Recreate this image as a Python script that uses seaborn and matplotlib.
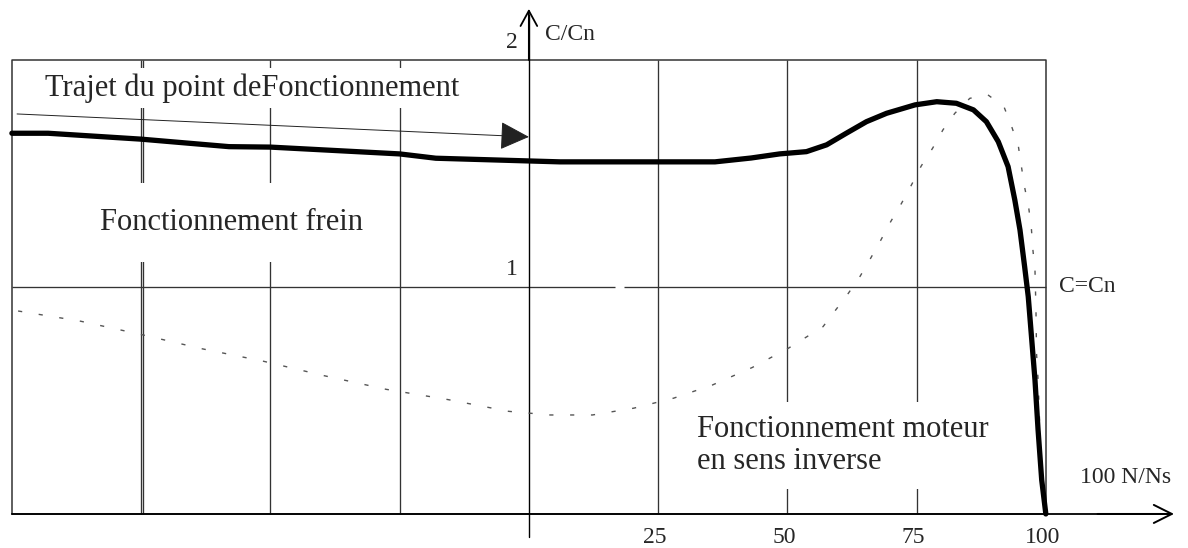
import matplotlib
matplotlib.use("Agg")
import matplotlib.pyplot as plt
import seaborn as sns
import pandas as pd

# Torque/speed characteristic of an induction machine (C/Cn versus 100 N/Ns)
speed_solid = [-100, -93, -84, -75, -58, -50, -25, -18, -6, 6, 14, 25, 36, 43, 48.5,
               53.7, 57.6, 61.4, 65.3, 69.2, 74.7, 78.9, 82.7, 86.0, 88.5, 90.8, 92.7,
               94.0, 95.0, 95.9, 96.6, 97.3, 97.9, 98.5, 99.2, 100]
torque_solid = [1.677, 1.677, 1.664, 1.651, 1.618, 1.616, 1.586, 1.567, 1.559, 1.551,
                1.551, 1.551, 1.551, 1.568, 1.586, 1.596, 1.626, 1.677, 1.728, 1.765,
                1.802, 1.816, 1.809, 1.780, 1.728, 1.640, 1.530, 1.383, 1.251, 1.089,
                0.957, 0.76, 0.590, 0.370, 0.150, 0.0]

speed_dotted = [-98.8, -86.9, -75.1, -63.3, -51.4, -39.6, -27.6, -15.7, -3.9, 4.1, 12.3,
                20.3, 28.0, 35.5, 43.2, 50.2, 56.9, 61.8, 64.1, 66.1, 68.1, 70.0, 72.1,
                74.0, 75.9, 78.1, 80.1, 82.4, 85.3, 88.8, 91.9, 93.4, 94.7, 95.3, 95.9,
                96.7, 97.2, 97.5, 97.9, 98.0, 98.1, 98.2, 98.5, 99.2, 100]
torque_dotted = [0.894, 0.850, 0.791, 0.728, 0.673, 0.609, 0.549, 0.504, 0.452, 0.436, 0.436,
                 0.466, 0.510, 0.568, 0.645, 0.730, 0.825, 0.972, 1.048, 1.126, 1.207, 1.288,
                 1.369, 1.449, 1.533, 1.611, 1.692, 1.765, 1.831, 1.846, 1.794, 1.706, 1.618,
                 1.527, 1.439, 1.347, 1.259, 1.163, 1.075, 0.984, 0.885, 0.709, 0.590, 0.150,
                 0.0]

grid_x = [-75, -50, -25, 25, 50, 75]
tick_values = [25, 50, 75, 100]
tick_labels = ["25", "50", "75", "100"]

sns.set_style("white")
plt.rcParams["font.family"] = ["Liberation Serif", "DejaVu Serif"]

fig = plt.figure(figsize=(11.88, 5.48), dpi=100)
ax = fig.add_axes([0, 0, 1, 1])
ax.set_xlim(-102.3, 127.5)
ax.set_ylim(-0.150, 2.264)
ax.axis("off")

grid_color = "#333333"
# Frame of the chart area
ax.plot([-100, 100, 100, -100, -100], [0, 0, 2, 2, 0], color=grid_color, lw=1.1, zorder=1)
# Vertical grid lines (the -75 line is doubled)
ax.vlines(grid_x, 0, 2, color=grid_color, lw=0.95, zorder=1)
ax.vlines([-74.6], 0, 2, color=grid_color, lw=0.95, zorder=1)
# Rated torque line C = Cn, with its small break
ax.hlines([1, 1], [-100, 18.4], [16.6, 100], color=grid_color, lw=0.95, zorder=1)

# Axes with open arrow heads
ax.plot([0, 0], [-0.1, 2.2], color="black", lw=1.0, zorder=2)
ax.annotate("", xy=(0, 2.225), xytext=(0, 2.0),
            arrowprops=dict(arrowstyle="->,head_length=1.1,head_width=0.6",
                            lw=1.3, color="black", shrinkA=0, shrinkB=0))
ax.plot([-100, 124], [0, 0], color="black", lw=1.3, zorder=2)
ax.annotate("", xy=(124.8, 0), xytext=(110, 0),
            arrowprops=dict(arrowstyle="->,head_length=1.3,head_width=0.65",
                            lw=1.4, color="black", shrinkA=0, shrinkB=0))

# Curves
df_solid = pd.DataFrame({"speed": speed_solid, "torque": torque_solid})
df_dotted = pd.DataFrame({"speed": speed_dotted, "torque": torque_dotted})
sns.lineplot(data=df_dotted, x="speed", y="torque", ax=ax, color="#555555", lw=1.0,
             linestyle=(0, (3, 12)), estimator=None, sort=False, zorder=3)
sns.lineplot(data=df_solid, x="speed", y="torque", ax=ax, color="black", lw=3.8,
             estimator=None, sort=False, zorder=4, solid_capstyle="round",
             solid_joinstyle="round")

# Operating point path arrow
ax.annotate("", xy=(0, 1.661), xytext=(-99, 1.762),
            arrowprops=dict(arrowstyle="-|>,head_length=1.85,head_width=0.9",
                            lw=0.7, color="#222222", shrinkA=0, shrinkB=0), zorder=3)

# Annotations
white_box = dict(facecolor="white", edgecolor="none")
big = 22
ax.text(-93.6, 1.877, "Trajet du point deFonctionnement", fontsize=big, ha="left",
        va="center", bbox=dict(white_box, pad=4), zorder=2)
ax.text(-83, 1.282, "Fonctionnement frein", fontsize=big, ha="left", va="center",
        bbox=dict(white_box, pad=18), zorder=2)
ax.text(32.6, 0.302, "Fonctionnement moteur\nen sens inverse", fontsize=big, ha="left",
        va="center", linespacing=1.15, bbox=dict(white_box, pad=9), zorder=2)

small = 17
ax.text(3.1, 2.11, "C/Cn", fontsize=small, ha="left", va="center")
ax.text(-3.3, 2.075, "2", fontsize=small, ha="center", va="center")
ax.text(-3.3, 1.075, "1", fontsize=small, ha="center", va="center")
ax.text(102.5, 1.0, "C=Cn", fontsize=small, ha="left", va="center")
ax.text(106.6, 0.159, "100 N/Ns", fontsize=small, ha="left", va="center")
for v, lab in zip(tick_values, tick_labels):
    ax.text(v - 0.6, -0.105, lab, fontsize=small, ha="center", va="center")

fig.savefig("out.png", dpi=100, facecolor="white")
